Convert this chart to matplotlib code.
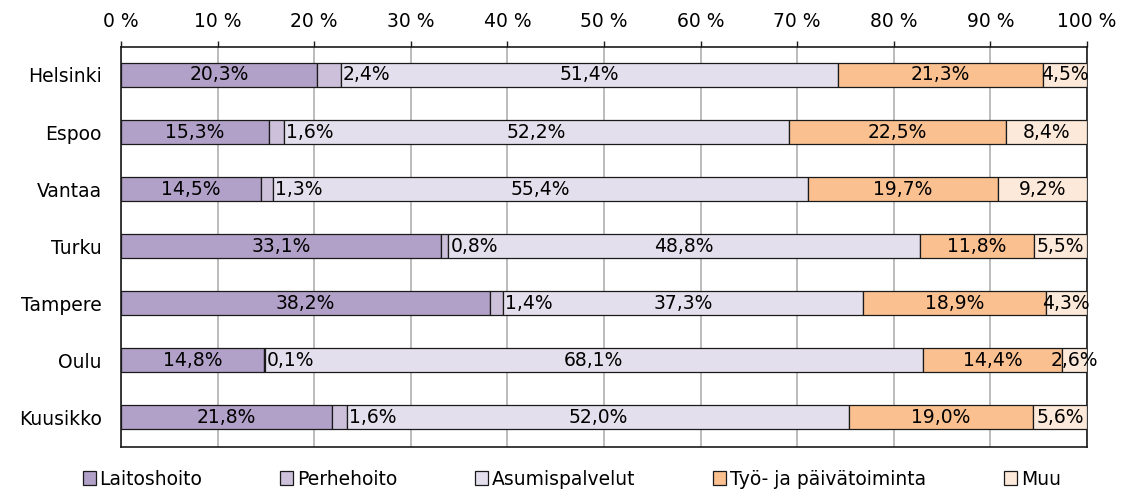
import matplotlib
matplotlib.use("Agg")
import matplotlib.pyplot as plt
import numpy as np

categories = ["Helsinki", "Espoo", "Vantaa", "Turku", "Tampere", "Oulu", "Kuusikko"]
series_names = ["Laitoshoito", "Perhehoito", "Asumispalvelut", "Työ- ja päivätoiminta", "Muu"]
laitoshoito = [20.3, 15.3, 14.5, 33.1, 38.2, 14.8, 21.8]
perhehoito = [2.4, 1.6, 1.3, 0.8, 1.4, 0.1, 1.6]
asumispalvelut = [51.4, 52.2, 55.4, 48.8, 37.3, 68.1, 52.0]
tyo_paiva = [21.3, 22.5, 19.7, 11.8, 18.9, 14.4, 19.0]
muu = [4.5, 8.4, 9.2, 5.5, 4.3, 2.6, 5.6]
tick_labels = ["0 %", "10 %", "20 %", "30 %", "40 %", "50 %", "60 %", "70 %", "80 %", "90 %", "100 %"]

colors = ["#B1A0C7", "#CCC0DA", "#E4DFEC", "#FAC090", "#FDE9D9"]

plt.rcParams['font.family'] = ['DejaVu Sans']
FS = 13.5

fig = plt.figure(figsize=(11.21, 4.90), dpi=100)
ax = fig.add_axes([121/1121, 1-447/490, (1087-121)/1121, (447-47)/490])

data = np.array([laitoshoito, perhehoito, asumispalvelut, tyo_paiva, muu])
totals = data.sum(axis=0)
pct = data / totals * 100
y = np.arange(len(categories))
left = np.zeros(len(categories))
for i, name in enumerate(series_names):
    ax.barh(y, pct[i], left=left, height=0.42, color=colors[i],
            edgecolor="#1a1a1a", linewidth=0.9, label=name, zorder=3)
    for j in range(len(categories)):
        txt = f"{data[i][j]:.1f}%".replace(".", ",")
        if i == 1:
            ax.text(left[j] + pct[i][j] + 0.2, y[j], txt, ha="left", va="center",
                    fontsize=FS, zorder=4)
        else:
            ax.text(left[j] + pct[i][j] / 2, y[j], txt, ha="center", va="center",
                    fontsize=FS, zorder=4)
    left += pct[i]

ax.set_xlim(0, 100)
ax.set_ylim(6.52, -0.49)
ax.set_yticks(y)
ax.set_yticklabels(categories, fontsize=FS)
ax.tick_params(axis="y", length=0, pad=14)
ax.xaxis.tick_top()
ax.set_xticks(np.arange(0, 101, 10))
ax.set_xticklabels(tick_labels, fontsize=FS)
ax.tick_params(axis="x", direction="out", length=4.5, width=1.0, pad=7, color="#1a1a1a")
ax.grid(axis="x", color="#B0B0B0", linewidth=1.2, zorder=0)
ax.set_axisbelow(True)
for s in ax.spines.values():
    s.set_linewidth(1.2)
    s.set_color("#1a1a1a")

handles, labels = ax.get_legend_handles_labels()
leg = fig.legend(handles, labels, loc="center", bbox_to_anchor=(0.51, 1-479/490),
                 ncol=5, frameon=False, fontsize=FS, handlelength=0.7, handleheight=0.7,
                 handletextpad=0.2, columnspacing=4.15, borderpad=0.0)

fig.savefig("out.png", dpi=100)
